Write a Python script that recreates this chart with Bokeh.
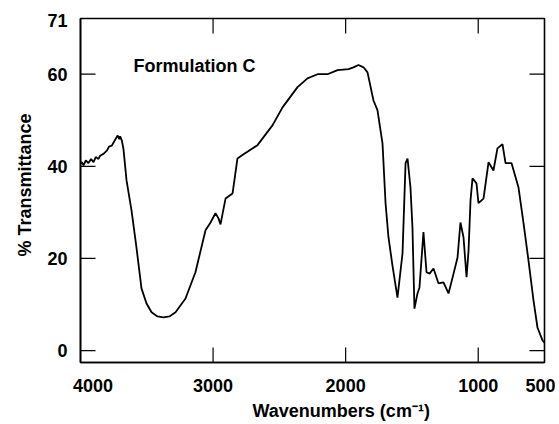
from bokeh.plotting import figure
from bokeh.models import Range1d, LinearAxis, FixedTicker, Title, Label
from bokeh.embed import file_html
from bokeh.resources import INLINE

# Data
wavenumber = [4000, 3990, 3977, 3960, 3940, 3920, 3902, 3885, 3864, 3852, 3827, 3801,
              3784, 3764, 3744, 3726, 3719, 3708, 3701, 3688, 3676, 3653, 3615, 3578,
              3540, 3502, 3464, 3419, 3374, 3329, 3283, 3208, 3133, 3057, 3019, 2982,
              2959, 2944, 2906, 2853, 2816, 2770, 2665, 2552, 2476, 2363, 2288, 2212,
              2137, 2061, 1978, 1941, 1903, 1865, 1835, 1790, 1760, 1722, 1699, 1677,
              1647, 1609, 1571, 1548, 1533, 1511, 1496, 1481, 1458, 1443, 1413, 1390,
              1367, 1337, 1300, 1262, 1224, 1186, 1156, 1134, 1111, 1088, 1073, 1058,
              1043, 1013, 998, 960, 922, 885, 855, 817, 794, 749, 696, 658, 621, 583,
              553, 515, 500]
transmittance = [40.6, 40.9, 40.2, 41.3, 40.7, 41.6, 40.9, 42.0, 41.6, 42.3, 42.7, 43.4,
                 44.3, 44.5, 45.5, 46.4, 46.7, 45.9, 46.5, 45.6, 43.8, 37.0, 30.4, 22.4,
                 13.5, 10.2, 8.3, 7.4, 7.2, 7.4, 8.3, 11.3, 17.0, 26.1, 27.8, 29.8,
                 28.7, 27.4, 33.0, 34.1, 41.7, 42.6, 44.6, 48.9, 52.8, 57.2, 59.1, 60.0,
                 60.0, 60.9, 61.1, 61.5, 62.0, 61.5, 60.4, 54.3, 52.2, 45.0, 32.0, 24.6,
                 18.5, 11.5, 21.1, 40.7, 41.7, 35.4, 26.7, 9.1, 12.4, 13.7, 25.7, 17.0,
                 16.7, 17.8, 14.6, 14.8, 12.4, 16.7, 20.2, 27.8, 24.6, 15.9, 21.7, 32.6,
                 37.4, 36.3, 32.0, 33.0, 40.9, 39.1, 43.9, 44.8, 40.7, 40.7, 35.4, 27.6,
                 19.6, 10.9, 5.0, 2.2, 1.7]

x_ticks = [4000, 3000, 2000, 1000, 500]
x_tick_labels = {4000: "\u00a0\u00a0\u00a0\u00a0\u00a04000"}
x_inner_ticks = [3000, 2000, 1000]
y_ticks = [0, 20, 40, 60, 71.6]
y_tick_labels = {0: "0", 20: "20", 40: "40", 60: "60", 71.6: "71"}
y_inner_ticks = [0, 20, 40, 60]

FONT = "Liberation Sans"
X0, X1 = 4000, 500
Y0, Y1 = -2.6, 72.1
FW, FH = 464, 344
TICK_PX = 15

p = figure(frame_width=FW, frame_height=FH,
           min_border_left=80, min_border_right=11, min_border_top=18, min_border_bottom=62,
           x_range=Range1d(X0, X1), y_range=Range1d(Y0, Y1),
           output_backend="svg", toolbar_location=None,
           x_axis_type=None, y_axis_type=None)
p.background_fill_color = "white"
p.border_fill_color = "white"
p.xgrid.visible = False
p.ygrid.visible = False
p.outline_line_color = "black"
p.outline_line_width = 1.6

p.line(wavenumber, transmittance, line_color="black", line_width=1.8)

# inward tick marks on all four sides (length given in pixels, converted to data units)
dy = TICK_PX * (Y1 - Y0) / FH
dx = TICK_PX * (X0 - X1) / FW
p.segment(x0=x_inner_ticks, y0=[Y0] * len(x_inner_ticks),
          x1=x_inner_ticks, y1=[Y0 + dy] * len(x_inner_ticks), line_color="black", line_width=1.2)
p.segment(x0=x_inner_ticks, y0=[Y1] * len(x_inner_ticks),
          x1=x_inner_ticks, y1=[Y1 - dy] * len(x_inner_ticks), line_color="black", line_width=1.2)
p.segment(x0=[X0] * len(y_inner_ticks), y0=y_inner_ticks,
          x1=[X0 - dx] * len(y_inner_ticks), y1=y_inner_ticks, line_color="black", line_width=1.2)
p.segment(x0=[X1] * len(y_inner_ticks), y0=y_inner_ticks,
          x1=[X1 + dx] * len(y_inner_ticks), y1=y_inner_ticks, line_color="black", line_width=1.2)

def style(ax, ticks):
    ax.ticker = FixedTicker(ticks=ticks)
    ax.minor_tick_line_color = None
    ax.major_tick_line_color = None
    ax.major_tick_in = 0
    ax.major_tick_out = 0
    ax.axis_line_color = "black"
    ax.axis_line_width = 1.6
    ax.major_label_text_font = FONT
    ax.major_label_text_font_style = "bold"
    ax.major_label_text_font_size = "18px"
    ax.major_label_text_color = "black"

bottom = LinearAxis()
style(bottom, x_ticks)
bottom.major_label_overrides = x_tick_labels
bottom.major_label_standoff = 13
p.add_layout(bottom, "below")

left = LinearAxis()
style(left, y_ticks)
left.major_label_overrides = y_tick_labels
left.major_label_standoff = 13
p.add_layout(left, "left")

xlabel = Title(text="Wavenumbers   (cm\u207b\u00b9)", text_font=FONT, text_font_style="bold",
               text_font_size="18px", text_color="black", align="left", offset=172,
               standoff=0)
p.add_layout(xlabel, "below")

ylabel = Title(text="% Transmittance", text_font=FONT, text_font_style="bold",
               text_font_size="18px", text_color="black", align="left", offset=106,
               standoff=20)
p.add_layout(ylabel, "left")

p.add_layout(Label(x=3600, y=61.7, text="Formulation C", text_font=FONT,
                   text_font_style="bold", text_font_size="18px",
                   text_align="left", text_baseline="middle", text_color="black"))

open("out.html", "w").write(file_html(p, INLINE))
